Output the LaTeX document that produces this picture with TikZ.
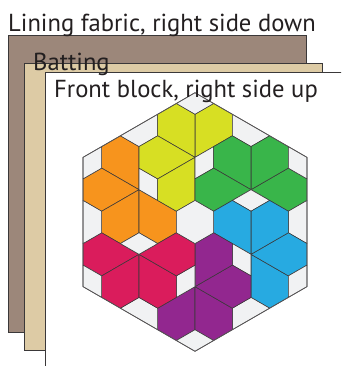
\documentclass[tikz,border=0pt]{standalone}
\usepackage{fontspec}
\setmainfont{PT Sans}
\usepackage{tikz}
\usetikzlibrary{positioning}
\definecolor{lining}{HTML}{9C877A}
\definecolor{batting}{HTML}{DDCBA5}
\definecolor{seam}{HTML}{3A3839}
\definecolor{ink}{HTML}{231F20}
\definecolor{patch}{HTML}{F1F2F3}
\definecolor{qorange}{HTML}{F7941D}
\definecolor{qlime}{HTML}{D7DF23}
\definecolor{qgreen}{HTML}{39B54A}
\definecolor{qblue}{HTML}{27AAE1}
\definecolor{qpurple}{HTML}{92278F}
\definecolor{qred}{HTML}{DA1C5C}
\tikzset{
  layer/.style={draw=seam, line width=0.6pt},
  piece/.style={draw=seam, line width=0.55pt, line join=round},
  caption/.style={anchor=base west, inner sep=0pt, text=ink,
                  font=\fontsize{24.6}{28}\selectfont}
}
\begin{document}
\begin{tikzpicture}[x=1pt,y=-1pt]
    \useasboundingbox (0,0) rectangle (341,366);
    \clip (0,0) rectangle (341,366);
    \fill[white] (0,0) rectangle (341,366);
    % the three layers
    \draw[layer,fill=lining] (8,35) rectangle (306,332);
    \draw[layer,fill=batting] (24,63) rectangle (322,350);
    \draw[layer,fill=white] (45.5,72) rectangle (360,380);
    % pieced block, one sector per colour
    \begin{scope}[shift={(195,222)}, x={(18.663pt,0pt)}, y={(0pt,10.775pt)}]
      \foreach \col [count=\k from 0] in {qorange,qlime,qgreen,qblue,qpurple,qred} {
        \begin{scope}[rotate=-60*\k]
          \draw[piece,fill=\col] (-3,3) -- (-3,7) -- (-4,8) -- (-5,7) -- (-5,5) -- cycle;
          \draw[piece,fill=\col] (-3,3) -- (-5,5) -- (-6,4) -- (-6,2) -- (-5,1) -- cycle;
          \draw[piece,fill=\col] (-3,3) -- (-5,1) -- (-5,-1) -- (-4,-2) -- (-3,-1) -- cycle;
          \draw[piece,fill=\col] (-3,3) -- (-3,-1) -- (-2,-2) -- (-1,-1) -- (-1,1) -- cycle;
          \draw[piece,fill=patch] (-3,3) -- (-2,2) -- (-2,4) -- (-3,5) -- cycle;
          \draw[piece,fill=patch] (-6,6) -- (-5,7) -- (-5,5) -- (-6,4) -- cycle;
          \draw[piece,fill=patch] (-4,8) -- (-2,10) -- (-2,8) -- (-3,7) -- cycle;
        \end{scope}
      }
      \draw[piece,fill=patch] (0,2) -- (1,1) -- (1,-1) -- (0,-2) -- (-1,-1) -- (-1,1) -- cycle;
      \draw[piece,draw=seam!85,line width=0.7pt] (0,12) -- (6,6) -- (6,-6) -- (0,-12) -- (-6,-6) -- (-6,6) -- cycle;
    \end{scope}
    % labels
    \node[caption] (lininglabel) at (8,31.5) {Lining fabric, right side down};
    \node[caption] (battinglabel) at (33,70.7) {Batting};
    \node[caption] (frontlabel) at (54,97.3) {Front block, right side up};
\end{tikzpicture}
\end{document}
